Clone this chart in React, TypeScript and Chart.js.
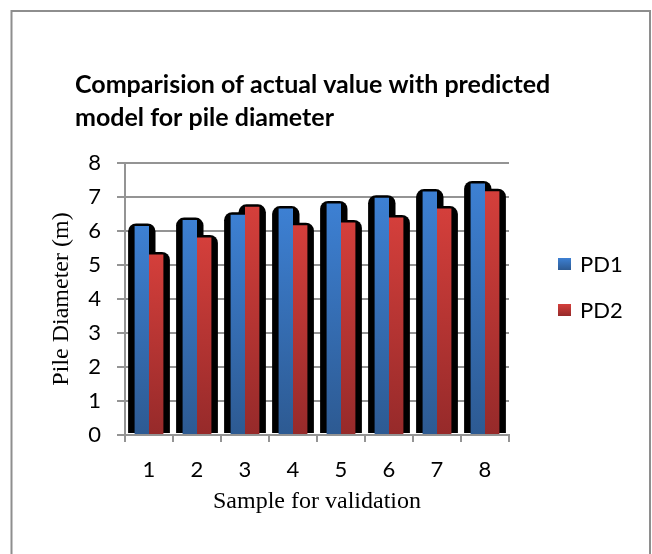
import React, { useEffect, useRef } from "react";
import { Chart, registerables } from "chart.js";

Chart.register(...registerables);

const categories = ["1", "2", "3", "4", "5", "6", "7", "8"];
const pd1Values = [6.15, 6.32, 6.48, 6.66, 6.81, 6.98, 7.16, 7.4];
const pd2Values = [5.31, 5.81, 6.71, 6.17, 6.25, 6.4, 6.66, 7.17];
const seriesNames = ["PD1", "PD2"];
const yTickValues = [0, 1, 2, 3, 4, 5, 6, 7, 8];
const titleLines = ["Comparision of actual value with predicted", "model for pile diameter"];
const xTitle = "Sample for validation";
const yTitle = "Pile Diameter (m)";

const BLUE_TOP = "#3d80d3";
const BLUE_BOTTOM = "#2d5a92";
const RED_TOP = "#d43f3b";
const RED_BOTTOM = "#962a2a";
const GRID = "#949494";

function barGradient(top: string, bottom: string) {
  return (c: any) => {
    const chart = c.chart;
    const area = chart.chartArea;
    const ys = chart.scales?.y;
    if (!area || !ys || c.raw == null) return top;
    const t = ys.getPixelForValue(c.raw);
    const b = ys.getPixelForValue(0);
    const g = chart.ctx.createLinearGradient(0, t, 0, b);
    g.addColorStop(0, top);
    g.addColorStop(1, bottom);
    return g;
  };
}

const shadowPlugin = {
  id: "barShadow",
  beforeDatasetsDraw(chart: any) {
    const ctx = chart.ctx;
    ctx.save();
    ctx.fillStyle = "#000";
    chart.data.datasets.forEach((_: any, i: number) => {
      const meta = chart.getDatasetMeta(i);
      meta.data.forEach((bar: any) => {
        const { x, y, base, width } = bar.getProps(["x", "y", "base", "width"], true);
        const l = x - width / 2 - 6.5;
        const r = x + width / 2 + 6.5;
        const t = y - 2.5;
        const b = base - 1;
        ctx.beginPath();
        ctx.roundRect(l, t, r - l, b - t, [8, 8, 0, 0]);
        ctx.fill();
      });
    });
    ctx.restore();
  },
};

const decorPlugin = {
  id: "decor",
  afterDraw(chart: any) {
    const ctx = chart.ctx;
    ctx.save();
    // outer frame
    ctx.strokeStyle = "#8e8e8e";
    ctx.lineWidth = 2;
    ctx.strokeRect(11.5, 11, 638.5, 600);
    // title
    ctx.fillStyle = "#000";
    ctx.font = "bold 25px Lato";
    ctx.textAlign = "left";
    ctx.textBaseline = "middle";
    titleLines.forEach((line, i) => ctx.fillText(line, 75, 85 + i * 33));
    // legend
    const colors = [[BLUE_TOP, BLUE_BOTTOM], [RED_TOP, RED_BOTTOM]];
    chart.data.datasets.forEach((ds: any, i: number) => {
      const cy = 264 + i * 46;
      const g = ctx.createLinearGradient(0, cy - 6, 0, cy + 6);
      g.addColorStop(0, colors[i][0]);
      g.addColorStop(1, colors[i][1]);
      ctx.fillStyle = g;
      ctx.fillRect(558, cy - 6, 13, 12);
      ctx.fillStyle = "#000";
      ctx.font = "22px Lato";
      ctx.fillText(ds.label, 580, cy + 1);
    });
    ctx.restore();
  },
};

export default function App() {
  const ref = useRef<HTMLCanvasElement | null>(null);

  useEffect(() => {
    if (!ref.current) return;
    const chart = new Chart(ref.current, {
      type: "bar",
      data: {
        labels: categories,
        datasets: [
          {
            label: seriesNames[0],
            data: pd1Values,
            backgroundColor: barGradient(BLUE_TOP, BLUE_BOTTOM),
            borderWidth: 0,
          },
          {
            label: seriesNames[1],
            data: pd2Values,
            backgroundColor: barGradient(RED_TOP, RED_BOTTOM),
            borderWidth: 0,
          },
        ],
      },
      options: {
        responsive: false,
        animation: false,
        layout: { padding: { left: 11, right: 143, top: 163, bottom: 0 } },
        datasets: { bar: { categoryPercentage: 0.6, barPercentage: 1 } },
        plugins: {
          legend: { display: false },
          title: { display: false },
          tooltip: { enabled: false },
        },
        scales: {
          x: {
            afterFit: (s: any) => {
              s.height = 119;
            },
            grid: {
              drawOnChartArea: false,
              drawTicks: true,
              tickLength: 7,
              color: GRID,
              lineWidth: 2,
            },
            border: { display: true, color: GRID, width: 2 },
            ticks: {
              padding: 15,
              color: "#000",
              font: { family: "Lato", size: 22 },
            },
            title: {
              display: true,
              text: xTitle,
              color: "#000",
              font: { family: "Liberation Serif", size: 24 },
              padding: { top: 0, bottom: 37.6 },
            },
          },
          y: {
            min: 0,
            max: 8,
            afterFit: (s: any) => {
              s.width = 114;
            },
            afterBuildTicks: (s: any) => {
              s.ticks = yTickValues.map((v) => ({ value: v }));
            },
            grid: {
              color: GRID,
              lineWidth: 2,
              tickLength: 8,
              drawTicks: true,
            },
            border: { display: true, color: GRID, width: 2 },
            ticks: {
              padding: 16,
              color: "#000",
              font: { family: "Lato", size: 22 },
            },
            title: {
              display: true,
              text: yTitle,
              color: "#000",
              font: { family: "Liberation Serif", size: 24 },
              padding: { top: 36.6, bottom: 0 },
            },
          },
        },
      },
      plugins: [shadowPlugin, decorPlugin],
    });
    return () => chart.destroy();
  }, []);

  return (
    <div style={{ position: "fixed", left: 0, top: 0, width: 652, height: 554, background: "#fff" }}>
      <canvas ref={ref} width={652} height={554} />
    </div>
  );
}
